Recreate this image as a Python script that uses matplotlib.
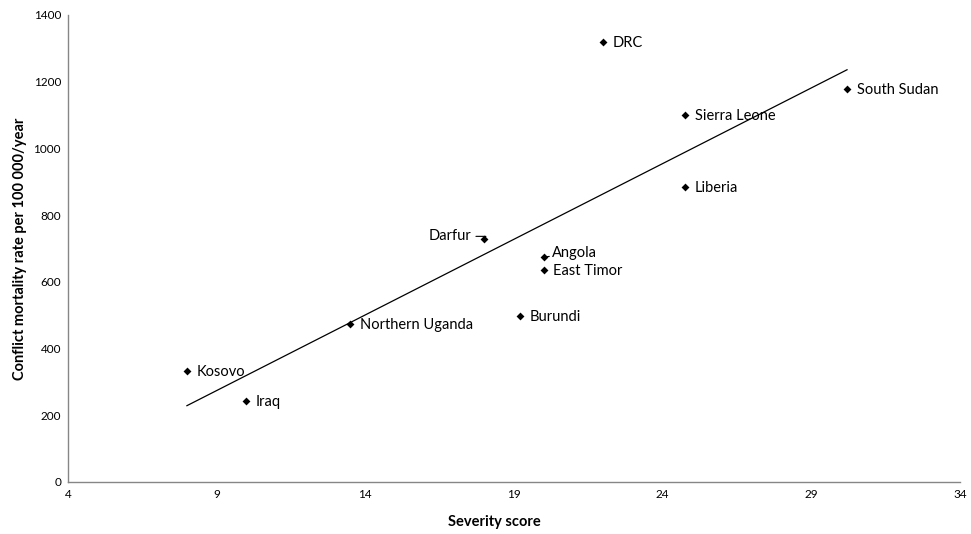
import matplotlib
matplotlib.use("Agg")
import matplotlib.pyplot as plt
import numpy as np

plt.rcParams['font.family'] = ['Lato', 'DejaVu Sans']

countries = ["Kosovo", "Iraq", "Northern Uganda", "Darfur", "Burundi", "Angola",
             "East Timor", "DRC", "Sierra Leone", "Liberia", "South Sudan"]
severity = [8, 10, 13.5, 18, 19.2, 20, 20, 22, 24.75, 24.75, 30.2]
mortality = [333, 243, 474, 728, 498, 674, 636, 1319, 1100, 885, 1178]

xticks = [4, 9, 14, 19, 24, 29, 34]
yticks = [0, 200, 400, 600, 800, 1000, 1200, 1400]

fig = plt.figure(figsize=(9.71, 5.34), dpi=100)
ax = fig.add_axes([0.070, 0.0974, 0.9187, 0.8746])

x = np.array(severity)
y = np.array(mortality)
ax.scatter(x, y, marker='D', s=16, color='black', zorder=3, linewidths=0)

# linear trendline
m, b = np.polyfit(x, y, 1)
xs = np.array([x.min(), x.max()])
ax.plot(xs, m * xs + b, color='black', lw=0.9, zorder=2)

for name, xi, yi in zip(countries, severity, mortality):
    if name == "Darfur":
        ax.annotate(name, (xi, yi), xytext=(-9, 2), textcoords='offset points',
                    ha='right', va='center', fontsize=10.5,
                    arrowprops=dict(arrowstyle='-', color='black', lw=0.8,
                                    connectionstyle='angle,angleA=0,angleB=60,rad=0',
                                    shrinkA=1, shrinkB=2))
    elif name == "Angola":
        ax.annotate(name, (xi, yi), xytext=(6, 3), textcoords='offset points',
                    ha='left', va='center', fontsize=10.5,
                    arrowprops=dict(arrowstyle='-', color='black', lw=0.8,
                                    shrinkA=0, shrinkB=2))
    else:
        ax.annotate(name, (xi, yi), xytext=(7, -1), textcoords='offset points',
                    ha='left', va='center', fontsize=10.5)

ax.set_xlim(4, 34)
ax.set_ylim(0, 1400)
ax.set_xticks(xticks)
ax.set_yticks(yticks)
ax.tick_params(length=0, labelsize=8.5, pad=5)
for s in ['top', 'right']:
    ax.spines[s].set_visible(False)
for s in ['left', 'bottom']:
    ax.spines[s].set_color('#868686')
    ax.spines[s].set_linewidth(1)

ax.set_xlabel("Severity score", fontsize=10.5, fontweight='bold')
ax.xaxis.set_label_coords((494 - 68) / (960 - 68), -0.07)
ax.set_ylabel("Conflict mortality rate per 100 000/year", fontsize=10.5, fontweight='bold')
ax.yaxis.set_label_coords(-0.046, 0.5)

fig.savefig("out.png", dpi=100)
